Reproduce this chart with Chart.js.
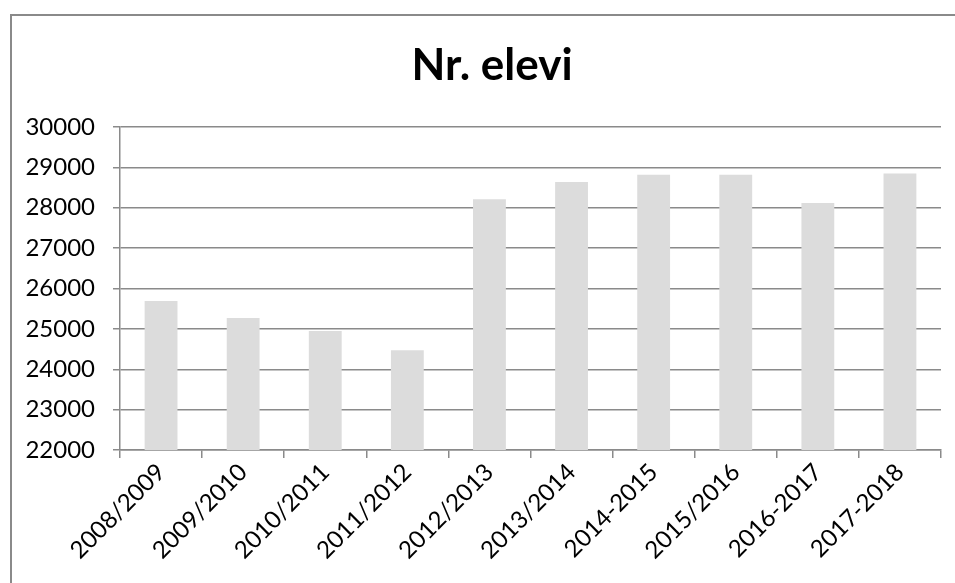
<!DOCTYPE html>
<html>
<head>
<meta charset="utf-8">
<script src="https://cdn.jsdelivr.net/npm/chart.js@4"></script>
<style>
  html, body { margin: 0; padding: 0; background: #fff; overflow: hidden; }
  #wrap { position: absolute; left: 0; top: 0; width: 955px; height: 583px; }
</style>
</head>
<body>
<div id="wrap"><canvas id="myChart"></canvas></div>
<script>
// anni scolastici e numero di elevi
const anni = ['2008/2009', '2009/2010', '2010/2011', '2011/2012', '2012/2013',
              '2013/2014', '2014-2015', '2015/2016', '2016-2017', '2017-2018']
const elevi = [25690, 25270, 24950, 24470, 28210, 28640, 28820, 28820, 28120, 28850]
const yTicks = [22000, 23000, 24000, 25000, 26000, 27000, 28000, 29000, 30000]
const titolo = 'Nr. elevi'

const grigio = '#8a8a8a'
const ctx = document.getElementById('myChart')

// cornice del grafico (lato sinistro e alto) e titolo centrato sulla cornice
const cornice = {
    id: 'cornice',
    beforeDraw: (chart) => {
        const c = chart.ctx
        c.save()
        c.strokeStyle = grigio
        c.lineWidth = 2
        c.beginPath()
        c.moveTo(11, chart.height)
        c.lineTo(11, 15)
        c.lineTo(chart.width + 5, 15)
        c.stroke()
        c.fillStyle = '#000'
        c.font = 'bold 44px Lato'
        c.textAlign = 'center'
        c.textBaseline = 'middle'
        c.fillText(titolo, 492, 66)
        c.restore()
    },
}

const myChart = new Chart(ctx, {
    type: 'bar',
    data: {
        labels: anni,
        datasets: [{
            label: titolo,
            data: elevi,
            backgroundColor: '#dcdcdc',
            borderWidth: 0,
            barPercentage: 0.8,
            categoryPercentage: 0.5,
        }],
    },
    options: {
        responsive: true,
        maintainAspectRatio: false,
        animation: false,
        layout: { padding: { left: 0, right: 14, top: 127, bottom: 0 } },
        plugins: {
            legend: { display: false },
            tooltip: { enabled: false },
            title: { display: false },
        },
        scales: {
            x: {
                grid: {
                    drawOnChartArea: false,
                    drawTicks: true,
                    tickLength: 8,
                    color: grigio,
                    lineWidth: 1.5,
                },
                border: { display: true, color: grigio, width: 1.5 },
                ticks: {
                    color: '#000',
                    font: { family: 'Lato', size: 24 },
                    minRotation: 45,
                    maxRotation: 45,
                    autoSkip: false,
                    padding: 0,
                },
                afterFit: (scale) => { scale.height = 133 },
            },
            y: {
                min: 22000,
                max: 30000,
                afterBuildTicks: (scale) => {
                    scale.ticks = yTicks.map((v) => ({ value: v }))
                },
                grid: {
                    color: grigio,
                    lineWidth: 1.5,
                    tickLength: 7,
                },
                border: { display: true, color: grigio, width: 1.5 },
                ticks: {
                    color: '#000',
                    font: { family: 'Lato', size: 24 },
                    padding: 18,
                    callback: (value) => String(value),
                },
                afterFit: (scale) => { scale.width = 120 },
            },
        },
    },
    plugins: [cornice],
})
</script>
</body>
</html>
